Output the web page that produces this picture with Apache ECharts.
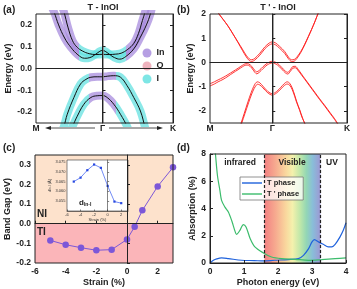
<!DOCTYPE html>
<html><head><meta charset="utf-8">
<script src="https://cdn.jsdelivr.net/npm/echarts@6/dist/echarts.min.js"></script>
<style>html,body{margin:0;padding:0;background:#fff}#c{width:357px;height:289px}</style>
</head><body><div id="c"></div>
<script>
// ---------- Panel (a): T - InOI fat bands (k, E) ----------
const bandA_U = [[-0.62,0.29],[-0.58,0.26],[-0.52,0.19],[-0.45,0.127],[-0.38,0.097],[-0.3,0.08],[-0.2,0.068],[-0.1,0.064],[0,0.065],[0.1,0.064],[0.2,0.066],[0.28,0.07],[0.38,0.088],[0.47,0.115],[0.54,0.16],[0.6,0.22],[0.64,0.26],[0.66,0.29]];
const bandA_W = [[-0.78,0.29],[-0.73,0.26],[-0.66,0.2],[-0.57,0.14],[-0.47,0.095],[-0.37,0.063],[-0.27,0.047],[-0.19,0.05],[-0.1,0.066],[-0.04,0.079],[0,0.083],[0.04,0.079],[0.1,0.066],[0.18,0.05],[0.26,0.043],[0.35,0.055],[0.47,0.09],[0.57,0.144],[0.66,0.2],[0.72,0.25],[0.75,0.29]];
const bandA_V1 = [[-0.62,-0.29],[-0.58,-0.265],[-0.53,-0.21],[-0.43,-0.133],[-0.33,-0.071],[-0.25,-0.05],[-0.175,-0.04],[-0.08,-0.038],[0,-0.038],[0.08,-0.035],[0.17,-0.033],[0.27,-0.04],[0.37,-0.079],[0.47,-0.133],[0.57,-0.195],[0.64,-0.27],[0.66,-0.29]];
const bandA_V2 = [[-0.49,-0.29],[-0.45,-0.265],[-0.38,-0.219],[-0.28,-0.164],[-0.175,-0.133],[-0.08,-0.125],[0,-0.124],[0.07,-0.133],[0.17,-0.164],[0.27,-0.21],[0.37,-0.265],[0.4,-0.29]];
const kLabelsA = ['M','Γ','K'];

// ---------- Panel (b): T' - InOI bands ----------
const bandB_CB1a = [[-0.9,2.2],[-0.87,2.05],[-0.79,1.78],[-0.71,1.5],[-0.63,1.17],[-0.55,0.84],[-0.48,0.55],[-0.42,0.3],[-0.37,0.15],[-0.33,0.11],[-0.28,0.17],[-0.2,0.38],[-0.12,0.64],[-0.05,0.8],[0,0.85],[0.05,0.81],[0.12,0.66],[0.2,0.45],[0.26,0.22],[0.31,0.11],[0.35,0.12],[0.4,0.24],[0.46,0.46],[0.52,0.75],[0.58,1.08],[0.63,1.36],[0.69,1.72],[0.74,2.05],[0.77,2.2]];
const bandB_CB1b = [[-0.9,2.2],[-0.87,2.05],[-0.79,1.78],[-0.71,1.5],[-0.63,1.17],[-0.55,0.82],[-0.48,0.5],[-0.42,0.24],[-0.37,0.08],[-0.33,0.04],[-0.28,0.1],[-0.2,0.3],[-0.12,0.56],[-0.05,0.72],[0,0.77],[0.05,0.73],[0.12,0.58],[0.2,0.37],[0.26,0.15],[0.31,0.04],[0.35,0.05],[0.4,0.18],[0.46,0.42],[0.52,0.72],[0.58,1.06],[0.63,1.35],[0.69,1.72],[0.74,2.05],[0.77,2.2]];
const bandB_VB1a = [[-1,-0.88],[-0.93,-0.8],[-0.87,-0.72],[-0.79,-0.62],[-0.71,-0.5],[-0.63,-0.37],[-0.55,-0.24],[-0.48,-0.12],[-0.42,-0.05],[-0.38,-0.06],[-0.33,-0.16],[-0.28,-0.33],[-0.25,-0.39],[-0.21,-0.33],[-0.15,-0.18],[-0.08,-0.03],[0,0.05],[0.08,-0.03],[0.15,-0.2],[0.21,-0.36],[0.25,-0.41],[0.29,-0.3],[0.33,-0.17],[0.37,-0.16],[0.42,-0.3],[0.47,-0.48],[0.52,-0.66],[0.6,-0.94],[0.68,-1.22],[0.76,-1.5],[0.85,-1.8],[0.93,-2.08],[1.0,-2.32],[1.07,-2.6]];
const bandB_VB1b = [[-1,-0.97],[-0.93,-0.89],[-0.87,-0.8],[-0.79,-0.7],[-0.71,-0.57],[-0.63,-0.43],[-0.55,-0.3],[-0.48,-0.18],[-0.42,-0.11],[-0.38,-0.12],[-0.33,-0.23],[-0.28,-0.41],[-0.25,-0.47],[-0.21,-0.41],[-0.15,-0.26],[-0.08,-0.1],[0,-0.02],[0.08,-0.1],[0.15,-0.27],[0.21,-0.43],[0.25,-0.48],[0.29,-0.37],[0.33,-0.24],[0.37,-0.22],[0.42,-0.35],[0.47,-0.52],[0.52,-0.69],[0.6,-0.97],[0.68,-1.25],[0.76,-1.53],[0.85,-1.83],[0.93,-2.11],[1.0,-2.35],[1.07,-2.63]];
const bandB_VB2a = [[-0.52,-2.65],[-0.5,-2.5],[-0.45,-2.1],[-0.39,-1.62],[-0.34,-1.25],[-0.3,-1.0],[-0.27,-0.86],[-0.24,-0.8],[-0.2,-0.84],[-0.15,-0.98],[-0.07,-1.2],[0,-1.29],[0.07,-1.2],[0.14,-1.02],[0.19,-0.88],[0.24,-0.8],[0.28,-0.86],[0.32,-1.05],[0.36,-1.35],[0.39,-1.6],[0.44,-1.95],[0.48,-2.25],[0.54,-2.65]];
const bandB_VB2b = [[-0.51,-2.65],[-0.49,-2.5],[-0.44,-2.12],[-0.38,-1.66],[-0.33,-1.3],[-0.29,-1.07],[-0.26,-0.95],[-0.24,-0.9],[-0.2,-0.93],[-0.15,-1.05],[-0.07,-1.26],[0,-1.35],[0.07,-1.26],[0.14,-1.09],[0.19,-0.96],[0.24,-0.89],[0.28,-0.94],[0.32,-1.12],[0.36,-1.4],[0.39,-1.64],[0.44,-1.98],[0.48,-2.28],[0.55,-2.65]];

// ---------- Panel (c): band gap vs strain ----------
const strain = [-5,-4,-3,-2,-1,0,0.5,1,2,3];
const bandGap = [-0.085,-0.107,-0.122,-0.135,-0.132,-0.08,-0.015,0.068,0.19,0.287];
const insetStrain = [-5,-4,-3,-2,-1,0,1,2];
const dInI = [3.065,3.067,3.0708,3.0737,3.072,3.0628,3.0548,3.054];

// ---------- Panel (d): absorption ----------
const photonT = [0,0.1,0.2,0.34,0.54,0.93,1.3,1.57,1.9,2.3,2.6,2.75,2.9,3.0,3.07,3.19,3.33,3.48,3.58,3.68,3.82,3.92,4.0];
const absT = [0,0.2,0.3,0.37,0.32,0.2,0.18,0.15,0.2,0.25,0.32,0.56,1.05,1.55,1.72,1.55,1.37,1.18,1.18,1.37,1.9,2.4,2.95];
const photonTp = [0.1,0.16,0.22,0.29,0.34,0.44,0.54,0.64,0.74,0.78,0.88,0.98,1.06,1.18,1.32,1.57,1.81,2.1,2.5,2.9,3.28,3.68,4.0];
const absTp = [9.5,8.0,6.4,5.35,4.6,4.1,3.75,3.1,2.3,2.1,2.4,2.82,2.65,1.8,1.18,0.74,0.44,0.32,0.27,0.2,0.25,0.32,0.37];
const visibleRange = [1.6, 3.25];

const F = 'Liberation Sans, Arial, sans-serif';
const TXT = '#222';
const LBL = {fontFamily:F, fontSize:8.5, fontWeight:'bold', color:TXT};
const NAME = {fontFamily:F, fontSize:9, fontWeight:'bold', color:TXT};
const C_IN = '#a487dc', C_O = '#eba0ae', C_I = '#5ee0df';
const RED = '#ff1e1e';

const chart = echarts.init(document.getElementById('c'), null, {renderer:'canvas'});

function gridDef(l,t,w,h,z){ return {left:l, top:t, width:w, height:h, show:true, borderColor:'#222', borderWidth:1, backgroundColor:'transparent', z:z||6}; }
const lineAx = {lineStyle:{color:'#222', width:1}};

const xAxis = [
  {gridIndex:0, type:'value', min:-1, max:1.06, z:10, axisLine:lineAx, axisTick:{show:false}, splitLine:{show:false},
   axisLabel:{...LBL, margin:1.5, customValues:[-1,0,1.06], formatter:v => v < -0.5 ? kLabelsA[0] : (v > 0.5 ? kLabelsA[2] : kLabelsA[1])}},
  {gridIndex:1, type:'value', min:-1, max:1.2, z:10, axisLine:lineAx, axisTick:{show:false}, splitLine:{show:false},
   axisLabel:{...LBL, margin:1.5, customValues:[-1,0,1.2], formatter:v => v < -0.5 ? 'M' : (v > 0.5 ? 'K' : 'Γ')}},
  {gridIndex:2, type:'value', min:-6, max:3, z:10, axisLine:lineAx, splitLine:{show:false},
   axisTick:{inside:true, length:3, customValues:[-6,-4,-2,0,2], lineStyle:{color:'#222'}},
   axisLabel:{...LBL, margin:4, customValues:[-6,-4,-2,0,2]},
   name:'Strain (%)', nameLocation:'middle', nameGap:15, nameTextStyle:NAME},
  {gridIndex:3, type:'value', min:0, max:4, interval:1, z:10, axisLine:lineAx, splitLine:{show:false},
   axisTick:{inside:true, length:3, lineStyle:{color:'#222'}},
   axisLabel:{...LBL, margin:4},
   name:'Photon energy (eV)', nameLocation:'middle', nameGap:15, nameTextStyle:NAME},
  {gridIndex:4, type:'value', min:-6, max:3, z:9, axisLine:{lineStyle:{color:'#333', width:0.6}}, splitLine:{show:false},
   axisTick:{inside:true, length:1.5, customValues:[-6,-4,-2,0,2], lineStyle:{color:'#333', width:0.6}},
   axisLabel:{fontFamily:F, fontSize:4, color:'#333', margin:1.5, customValues:[-6,-4,-2,0,2]},
   name:'Strain (%)', nameLocation:'middle', nameGap:6, nameTextStyle:{fontFamily:F, fontSize:4, color:'#333'}}
];
const yAxis = [
  {gridIndex:0, type:'value', min:-0.25, max:0.25, z:10, axisLine:lineAx, splitLine:{show:false},
   axisTick:{inside:true, length:3, customValues:[-0.2,-0.1,0,0.1,0.2], lineStyle:{color:'#222'}},
   axisLabel:{...LBL, margin:4, customValues:[-0.2,-0.1,0,0.1,0.2], formatter:v => v.toFixed(1)},
   name:'Energy (eV)', nameLocation:'middle', nameGap:22, nameTextStyle:NAME},
  {gridIndex:1, type:'value', min:-2.5, max:2, z:10, axisLine:lineAx, splitLine:{show:false},
   axisTick:{inside:true, length:3, customValues:[-2,-1,0,1,2], lineStyle:{color:'#222'}},
   axisLabel:{...LBL, margin:4, customValues:[-2,-1,0,1,2], formatter:v => String(v)},
   name:'Energy (eV)', nameLocation:'middle', nameGap:15, nameTextStyle:NAME},
  {gridIndex:2, type:'value', min:-0.2, max:0.35, z:10, axisLine:lineAx, splitLine:{show:false},
   axisTick:{inside:true, length:3, customValues:[-0.2,-0.1,0,0.1,0.2,0.3], lineStyle:{color:'#222'}},
   axisLabel:{...LBL, margin:4, customValues:[-0.2,-0.1,0,0.1,0.2,0.3], formatter:v => v.toFixed(1)},
   name:'Band Gap (eV)', nameLocation:'middle', nameGap:22, nameTextStyle:NAME},
  {gridIndex:3, type:'value', min:0, max:8, interval:2, z:10, axisLine:lineAx, splitLine:{show:false},
   axisTick:{inside:true, length:3, lineStyle:{color:'#222'}},
   axisLabel:{...LBL, margin:4},
   name:'Absorption (%)', nameLocation:'middle', nameGap:13, nameTextStyle:NAME},
  {gridIndex:4, type:'value', min:3.05, max:3.076, z:9, axisLine:{lineStyle:{color:'#333', width:0.6}}, splitLine:{show:false},
   axisTick:{inside:true, length:1.5, customValues:[3.055,3.06,3.065,3.07,3.075], lineStyle:{color:'#333', width:0.6}},
   axisLabel:{fontFamily:F, fontSize:4, color:'#333', margin:1.5, customValues:[3.055,3.06,3.065,3.07,3.075], formatter:v => v.toFixed(3)},
   name:'{d|d}{s|In-I} (Å)', nameLocation:'middle', nameGap:13,
   nameTextStyle:{fontFamily:F, fontSize:4, color:'#333', rich:{d:{fontSize:4, fontFamily:F, color:'#333'}, s:{fontSize:3, fontFamily:F, color:'#333', verticalAlign:'bottom'}}}},
  {gridIndex:0, type:'value', position:'right', min:-0.25, max:0.25, z:10, axisLine:lineAx, splitLine:{show:false},
   axisTick:{inside:true, length:3, customValues:[-0.2,-0.1,0,0.1,0.2], lineStyle:{color:'#222'}}, axisLabel:{show:false}},
  {gridIndex:1, type:'value', position:'right', min:-2.5, max:2, z:10, axisLine:lineAx, splitLine:{show:false},
   axisTick:{inside:true, length:3, customValues:[-2,-1,0,1,2], lineStyle:{color:'#222'}}, axisLabel:{show:false}}
];

function fat(data){ return {type:'line', xAxisIndex:0, yAxisIndex:0, data, smooth:0.4, showSymbol:false, silent:true, z:2,
  lineStyle:{width:8, opacity:0.72, cap:'round', join:'round'}}; }
function blk(data, extra){ return Object.assign({type:'line', xAxisIndex:0, yAxisIndex:0, data, smooth:0.4, showSymbol:false, silent:true, z:3,
  lineStyle:{width:1, color:'#111'}}, extra||{}); }
function red(data, extra){ return Object.assign({type:'line', xAxisIndex:1, yAxisIndex:1, data, smooth:0.3, showSymbol:false, silent:true, z:3,
  lineStyle:{width:0.9, color:RED}}, extra||{}); }

const gammaLine = (w) => ({silent:true, symbol:'none', label:{show:false}, lineStyle:{color:'#8a8a8a', width:w, type:'solid'}, data:[{xAxis:0}]});

const series = [
  fat(bandA_U), fat(bandA_W), fat(bandA_V1), fat(bandA_V2),
  blk(bandA_U, {markLine:gammaLine(1.6)}), blk(bandA_W), blk(bandA_V1), blk(bandA_V2),
  red(bandB_CB1a, {markLine:{silent:true, symbol:'none', label:{show:false},
     data:[{xAxis:0, lineStyle:{color:'#8a8a8a', width:1.6, type:'solid'}}, {yAxis:0, lineStyle:{color:'#999', width:1, type:[4,3]}}]}}),
  red(bandB_CB1b), red(bandB_VB1a), red(bandB_VB1b), red(bandB_VB2a), red(bandB_VB2b),
  {type:'line', xAxisIndex:2, yAxisIndex:2, data:strain.map((s,i)=>[s, bandGap[i]]), symbol:'circle', symbolSize:6.5, silent:true, z:3,
   itemStyle:{color:'#7c57d8'}, lineStyle:{color:'#7c57d8', width:1},
   markArea:{silent:true, data:[[{yAxis:0, itemStyle:{color:'#fde2cc'}},{yAxis:0.35}],[{yAxis:-0.2, itemStyle:{color:'#fbb5b9'}},{yAxis:0}]]},
   markLine:{silent:true, symbol:'none', label:{show:false}, lineStyle:{color:'#888', width:1, type:[4,3]}, data:[{yAxis:0}]}},
  {type:'line', xAxisIndex:4, yAxisIndex:4, data:insetStrain.map((s,i)=>[s, dInI[i]]), symbol:'rect', symbolSize:2.2, silent:true, z:8,
   itemStyle:{color:'#2748e0'}, lineStyle:{color:'#4f6ff2', width:0.8}},
  {type:'line', xAxisIndex:3, yAxisIndex:3, data:[], silent:true, z:1,
   markArea:{silent:true, data:[[{xAxis:visibleRange[0], itemStyle:{opacity:0.85, color:{type:'linear', x:0, y:0, x2:1, y2:0, colorStops:[
      {offset:0, color:'#f06a6c'},{offset:0.2, color:'#f59c7c'},{offset:0.38, color:'#f8cf8c'},{offset:0.5, color:'#f2ee9e'},
      {offset:0.64, color:'#b3e39a'},{offset:0.75, color:'#80cfa8'},{offset:0.86, color:'#74b2d2'},{offset:1, color:'#8c86cc'}]}}},
      {xAxis:visibleRange[1]}]]},
   markLine:{silent:true, symbol:'none', label:{show:false}, lineStyle:{color:'#222', width:1.2, type:[3,2]}, data:[{xAxis:visibleRange[0]},{xAxis:visibleRange[1]}]}},
  {name:'T phase', type:'line', xAxisIndex:3, yAxisIndex:3, data:photonT.map((x,i)=>[x, absT[i]]), smooth:0.3, symbol:'none', silent:true, z:4,
   itemStyle:{color:'#1f62dc'}, lineStyle:{color:'#1f62dc', width:1.2}},
  {name:"T ' phase", type:'line', xAxisIndex:3, yAxisIndex:3, data:photonTp.map((x,i)=>[x, absTp[i]]), smooth:0.3, symbol:'none', silent:true, z:4,
   itemStyle:{color:'#3cbc6c'}, lineStyle:{color:'#3cbc6c', width:1.2}},
  {name:'In', type:'scatter', xAxisIndex:0, yAxisIndex:0, data:[], itemStyle:{color:C_IN}},
  {name:'O', type:'scatter', xAxisIndex:0, yAxisIndex:0, data:[], itemStyle:{color:C_O}},
  {name:'I', type:'scatter', xAxisIndex:0, yAxisIndex:0, data:[], itemStyle:{color:C_I}}
];

function txt(x, y, text, size, align, extra){ return {type:'text', x, y, z:20, silent:true, style:Object.assign({text, fontFamily:F, fontSize:size, fontWeight:'bold', fill:TXT, align:align||'left', verticalAlign:'middle'}, extra||{})}; }

const graphic = [
  txt(3, 10, '(a)', 10), txt(177, 10, '(b)', 10), txt(3, 148, '(c)', 10), txt(177, 148, '(d)', 10),
  txt(103, 8, 'T - InOI', 9, 'center'), txt(278, 8, "T ' - InOI", 9, 'center'),
  txt(37, 214, 'NI', 10), txt(37, 232, 'TI', 10),
  txt(240, 163, 'infrared', 8.5, 'center'), txt(292, 163, 'Visible', 8.5, 'center'), txt(332, 163, 'UV', 8.5, 'center'),
  {type:'text', x:79, y:203, z:20, silent:true, style:{text:'{d|d}{s|In-I}', fontFamily:F, fill:TXT, align:'left', verticalAlign:'middle',
    rich:{d:{fontSize:8, fontWeight:'bold', fontFamily:F, fill:TXT}, s:{fontSize:5, fontWeight:'bold', fontFamily:F, fill:TXT, verticalAlign:'bottom', padding:[4,0,0,0]}}}},
  {type:'line', z:20, silent:true, shape:{x1:48, y1:128, x2:95, y2:128}, style:{stroke:'#222', lineWidth:0.8}},
  {type:'polygon', z:20, silent:true, shape:{points:[[45,128],[51,126],[51,130]]}, style:{fill:'#222'}},
  {type:'line', z:20, silent:true, shape:{x1:109, y1:128, x2:160, y2:128}, style:{stroke:'#222', lineWidth:0.8}},
  {type:'polygon', z:20, silent:true, shape:{points:[[163,128],[157,126],[157,130]]}, style:{fill:'#222'}}
];

chart.setOption({
  animation:false,
  backgroundColor:'#fff',
  grid:[gridDef(36,14,137,109), gridDef(210,14,137,109), gridDef(35,155,138,108), gridDef(210,154,136,109),
        {left:67, top:160, width:61, height:51, show:true, backgroundColor:'#fff', borderColor:'#333', borderWidth:0.6, z:7}],
  xAxis, yAxis,
  visualMap:[
    {show:false, type:'piecewise', seriesIndex:[0,1], dimension:0,
     pieces:[{lt:-0.35, color:C_IN},{gte:-0.35, lte:0.35, color:C_I},{gt:0.35, color:C_IN}]},
    {show:false, type:'piecewise', seriesIndex:[2,3], dimension:0,
     pieces:[{lt:-0.2, color:C_I},{gte:-0.2, lte:0.2, color:C_IN},{gt:0.2, color:C_I}]}
  ],
  legend:[
    {data:['In','O','I'], left:142.5, top:48.5, orient:'vertical', icon:'circle', itemWidth:9, itemHeight:9, itemGap:4,
     padding:0, textStyle:{fontFamily:F, fontSize:9, fontWeight:'bold', color:TXT}},
    {data:['T phase',"T ' phase"], left:240, top:177, orient:'vertical', icon:'rect', itemWidth:20, itemHeight:1.4, itemGap:3,
     padding:[2,4,2,2], borderColor:'#777', borderWidth:0.8, backgroundColor:'rgba(255,255,255,0.75)',
     textStyle:{fontFamily:F, fontSize:7.5, fontWeight:'bold', color:TXT}}
  ],
  series, graphic
});
</script></body></html>
